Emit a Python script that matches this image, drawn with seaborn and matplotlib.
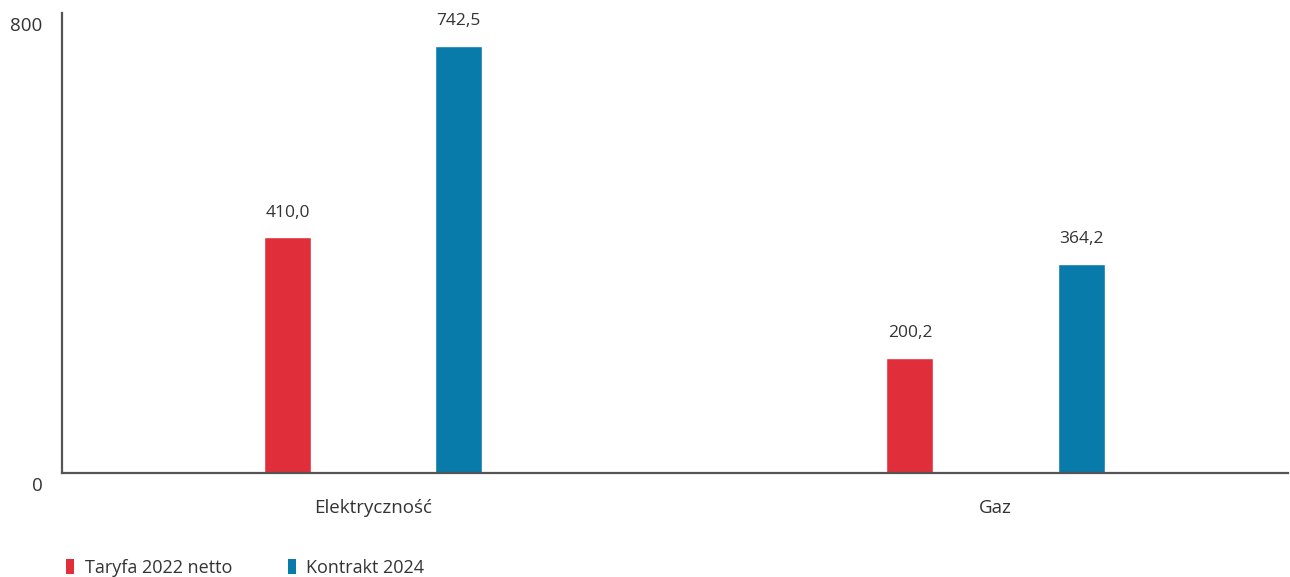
import matplotlib
matplotlib.use("Agg")
import matplotlib.pyplot as plt
import matplotlib.transforms as mtransforms
from matplotlib.patches import Patch
import pandas as pd
import seaborn as sns

categories = ["Elektryczność", "Gaz"]
series_names = ["Taryfa 2022 netto", "Kontrakt 2024"]
taryfa_2022 = [410.0, 200.2]
kontrakt_2024 = [742.5, 364.2]
colors = ["#E02F3B", "#087BAA"]
y_ticks = [0, 800]

df = pd.DataFrame({
    "kategoria": categories * 2,
    "seria": [series_names[0]] * len(categories) + [series_names[1]] * len(categories),
    "wartosc": taryfa_2022 + kontrakt_2024,
})

sns.set_theme(style="white")
plt.rcParams["font.family"] = ["Open Sans", "DejaVu Sans"]

fig = plt.figure(figsize=(12.9, 5.77), dpi=100)
ax = fig.add_axes([62 / 1290, 104 / 577, (1288 - 62) / 1290, (473 - 13) / 577])

sns.barplot(data=df, x="kategoria", y="wartosc", hue="seria", order=categories,
            hue_order=series_names, palette=colors, width=0.55, gap=0.725,
            saturation=1, ax=ax, legend=False)

ax.set_xlim(-0.5, 1.47)
ax.set_ylim(0, 800)
ax.set_xlabel("")
ax.set_ylabel("")

for spine in ["top", "right"]:
    ax.spines[spine].set_visible(False)
for spine in ["left", "bottom"]:
    ax.spines[spine].set_color("#555555")
    ax.spines[spine].set_linewidth(1.6)

ax.set_yticks(y_ticks)
ax.set_yticklabels([str(t) for t in y_ticks])
ax.tick_params(axis="y", length=0, pad=14, labelsize=13.5, labelcolor="#333333")
ax.tick_params(axis="x", length=0, pad=19, labelsize=13.5, labelcolor="#333333")
offset = mtransforms.ScaledTranslation(0, -3 / 72, fig.dpi_scale_trans)
for lbl in ax.get_yticklabels():
    lbl.set_verticalalignment("top")
    lbl.set_transform(lbl.get_transform() + offset)

for container in ax.containers:
    vals = container.datavalues
    ax.bar_label(container, labels=[f"{v:.1f}".replace(".", ",") for v in vals],
                 padding=12, fontsize=12.5, color="#333333")

handles = [Patch(facecolor=c, edgecolor="none") for c in colors]
fig.legend(handles, series_names, loc="lower left", bbox_to_anchor=(50 / 1290, -16 / 577),
           ncol=2, frameon=False, fontsize=13, handlelength=0.42, handleheight=0.9,
           handletextpad=0.6, columnspacing=3.1, labelcolor="#333333")

fig.savefig("out.png", dpi=100)
